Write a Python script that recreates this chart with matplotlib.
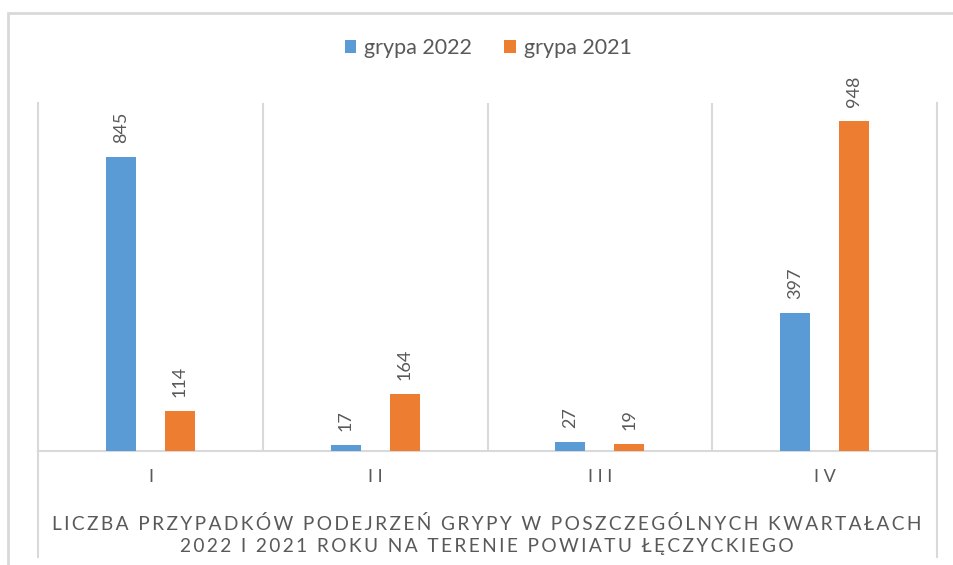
import numpy as np
import matplotlib.pyplot as plt
from matplotlib.patches import Rectangle
from matplotlib.lines import Line2D

plt.rcParams['font.family'] = ['Lato', 'DejaVu Sans']

# dane
quarters = ['I', 'II', 'III', 'IV']
flu_2022 = [845, 17, 27, 397]
flu_2021 = [114, 164, 19, 948]
series_names = ['grypa 2022', 'grypa 2021']
title = 'LICZBA PRZYPADKÓW PODEJRZEŃ GRYPY W POSZCZEGÓLNYCH KWARTAŁACH\n2022 I 2021 ROKU NA TERENIE POWIATU ŁĘCZYCKIEGO'

BLUE = '#5B9BD5'
ORANGE = '#ED7D31'
TXT = '#595959'
GRID = '#D9D9D9'


def spaced(s, sep='\u2009'):
    # excel-like letter spacing
    return '\n'.join(sep.join(line) for line in s.split('\n'))


W, H = 954, 565
fig = plt.figure(figsize=(W / 100, H / 100), dpi=100)
ax = fig.add_axes([38 / W, (H - 451) / H, (937 - 38) / W, (451 - 103) / H])

x = np.arange(len(quarters))
bw = 0.133
off = 0.131
b1 = ax.bar(x - off, flu_2022, bw, color=BLUE, label=series_names[0], zorder=3)
b2 = ax.bar(x + off, flu_2021, bw, color=ORANGE, label=series_names[1], zorder=3)

for bars in (b1, b2):
    for r in bars:
        ax.annotate(str(int(r.get_height())), (r.get_x() + r.get_width() / 2, r.get_height()),
                    xytext=(0, 10), textcoords='offset points', rotation=90,
                    ha='center', va='bottom', fontsize=13, color=TXT)

ax.set_xlim(-0.5, len(quarters) - 0.5)
ax.set_ylim(0, 1000)
ax.set_yticks([])
ax.set_xticks([])
for xv in x[:-1] + 0.5:
    ax.axvline(xv, color=GRID, lw=1.5, zorder=1)
ax.spines['top'].set_visible(False)
for s in ['left', 'right', 'bottom']:
    ax.spines[s].set_color(GRID)
    ax.spines[s].set_linewidth(1.5)

# kategorie pod osią
for i, q in enumerate(quarters):
    ax.text(i, -0.075, spaced(q, ' '), transform=ax.get_xaxis_transform(),
            ha='center', va='center', fontsize=13, color=TXT)

# ramka tabeli kategorii
for xp in (38, 937):
    fig.add_artist(Line2D([xp / W, xp / W], [(H - 451) / H, (H - 557) / H],
                          color=GRID, lw=1.5))

fig.text(487 / W, (H - 535) / H, spaced(title), ha='center', va='center',
         fontsize=13.8, color=TXT, linespacing=1.3)

# ramka wykresu
fig.add_artist(Rectangle((8 / W, -0.1), 1.2, 1.1 - 13 / H, transform=fig.transFigure,
                         fill=False, edgecolor=GRID, lw=2))

fig.legend(loc='center', bbox_to_anchor=(488 / W, 1 - 48 / H), ncol=2, frameon=False,
           fontsize=15.5, labelcolor=TXT, handlelength=0.55, handleheight=0.55,
           handletextpad=0.35, columnspacing=1.5)

plt.savefig('out.png', dpi=100)
